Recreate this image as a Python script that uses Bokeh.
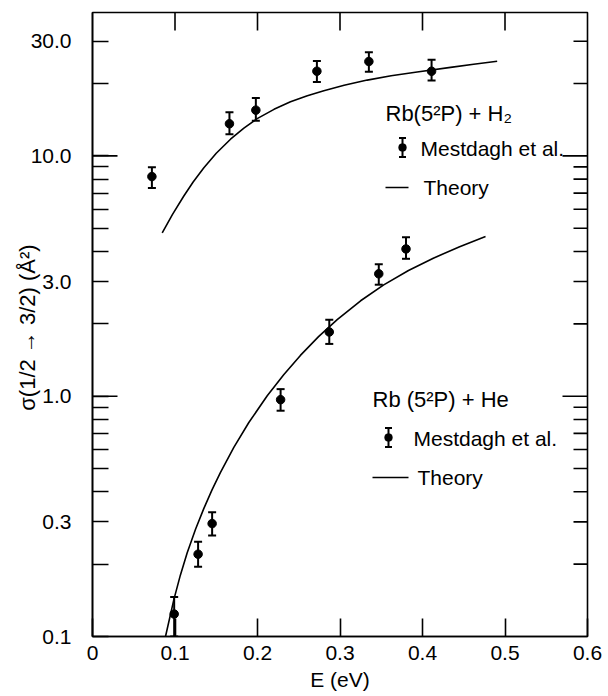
import numpy as np
from bokeh.plotting import figure
from bokeh.models import (ColumnDataSource, Whisker, TeeHead, FixedTicker,
                          Label, Arrow, Range1d, BoxAnnotation)
from bokeh.embed import file_html
from bokeh.resources import INLINE

# ---------------- data ----------------
H2_E = [0.072, 0.166, 0.198, 0.272, 0.335, 0.411]
H2_SIGMA = [8.2, 13.6, 15.5, 22.5, 24.7, 22.5]
H2_UPPER = [8.97, 15.2, 17.4, 24.8, 27.0, 25.1]
H2_LOWER = [7.35, 12.3, 14.0, 20.3, 22.4, 20.6]

H2_THEORY_E = [0.0845, 0.097, 0.1107, 0.122, 0.135, 0.150, 0.1673, 0.1835, 0.1996, 0.220,
               0.240, 0.2604, 0.2804, 0.305, 0.333, 0.362, 0.3935, 0.434, 0.462, 0.4905]
H2_THEORY_SIGMA = [4.78, 5.71, 6.81, 7.78, 8.93, 10.25, 11.73, 13.05, 14.29, 15.62,
                   16.78, 17.80, 18.67, 19.66, 20.67, 21.54, 22.34, 23.34, 24.05, 24.77]

HE_E = [0.099, 0.128, 0.145, 0.228, 0.287, 0.347, 0.380]
HE_SIGMA = [0.124, 0.220, 0.295, 0.967, 1.85, 3.23, 4.10]
HE_UPPER = [0.146, 0.248, 0.329, 1.07, 2.08, 3.54, 4.59]
HE_LOWER = [0.100, 0.195, 0.263, 0.87, 1.65, 2.91, 3.73]

HE_THEORY_E = [0.0885, 0.0986, 0.1065, 0.1148, 0.125, 0.135, 0.145, 0.155, 0.1713, 0.1895,
               0.2118, 0.232, 0.252, 0.274, 0.2966, 0.325, 0.353, 0.383, 0.4131, 0.445, 0.4764]
HE_THEORY_SIGMA = [0.100, 0.1424, 0.180, 0.2231, 0.280, 0.3414, 0.4087, 0.481, 0.612, 0.777,
                   1.004, 1.232, 1.478, 1.769, 2.084, 2.495, 2.904, 3.334, 3.752, 4.188, 4.617]

X_TICKS = [0, 0.1, 0.2, 0.3, 0.4, 0.5, 0.6]
X_TICK_LABELS = ["0", "0.1", "0.2", "0.3", "0.4", "0.5", "0.6"]
Y_TICKS = [0.1, 0.3, 1, 3, 10, 30]
Y_TICK_LABELS = ["0.1", "0.3", "1.0", "3.0", "10.0", "30.0"]
Y_MINOR = [0.2, 0.4, 0.5, 0.6, 0.7, 0.8, 0.9, 2, 4, 5, 6, 7, 8, 9, 20]
Y_LONG_TICKS = [1, 10]

X_LABEL = "E (eV)"
Y_LABEL = "σ(1/2 → 3/2)  (Å²)"
H2_TITLE = "Rb(5²P) + H₂"
HE_TITLE = "Rb (5²P) + He"
DATA_NAME = "Mestdagh et al."
THEORY_NAME = "Theory"

X_START, X_END = 0.0, 0.6
Y_START, Y_END = 0.1, 39.5

FONT = "Liberation Sans"
LW = 1.6

p = figure(width=604, height=696, x_range=Range1d(X_START, X_END),
           y_range=Range1d(Y_START, Y_END), y_axis_type="log",
           output_backend="svg", toolbar_location=None,
           min_border_left=92, min_border_right=17, min_border_top=12, min_border_bottom=60)
p.background_fill_color = "white"
p.border_fill_color = "white"
p.outline_line_color = "black"
p.outline_line_width = LW
p.xgrid.grid_line_color = None
p.ygrid.grid_line_color = None


def style_axis(ax, tick_in, minor_in):
    ax.axis_line_color = "black"
    ax.axis_line_width = LW
    ax.major_tick_line_color = "black"
    ax.major_tick_line_width = LW
    ax.minor_tick_line_color = "black"
    ax.minor_tick_line_width = LW
    ax.major_tick_in = tick_in
    ax.major_tick_out = 0
    ax.minor_tick_in = minor_in
    ax.minor_tick_out = 0
    ax.major_label_text_font = FONT
    ax.major_label_text_color = "black"
    ax.major_label_text_font_size = "21px"
    ax.axis_label_text_font = FONT
    ax.axis_label_text_color = "black"
    ax.axis_label_text_font_style = "normal"


# bottom axis
xa = p.xaxis[0]
xa.ticker = FixedTicker(ticks=X_TICKS, minor_ticks=[])
xa.major_label_overrides = {v: s for v, s in zip(X_TICKS, X_TICK_LABELS)}
style_axis(xa, 18, 0)
xa.major_label_standoff = 9
xa.axis_label = X_LABEL
xa.axis_label_text_font_size = "21px"
xa.axis_label_standoff = 5

# left axis
ya = p.yaxis[0]
ya.ticker = FixedTicker(ticks=Y_TICKS, minor_ticks=Y_MINOR)
ya.major_label_overrides = {v: s for v, s in zip(Y_TICKS, Y_TICK_LABELS)}
style_axis(ya, 16, 16)
ya.major_label_standoff = 21
ya.axis_label = Y_LABEL
ya.axis_label_text_font_size = "22px"
ya.axis_label_standoff = -12

# mirror ticks on the top and right edges (drawn as short rays from the frame edge)
p.ray(x=X_TICKS[1:-1], y=[Y_END] * (len(X_TICKS) - 2), length=18, length_units="screen",
      angle=-np.pi / 2, line_color="black", line_width=LW)
short_right = [t for t in Y_TICKS + Y_MINOR if t not in Y_LONG_TICKS and t > Y_START]
p.ray(x=[X_END] * len(short_right), y=short_right, length=14, length_units="screen",
      angle=np.pi, line_color="black", line_width=LW)
# longer ticks at the decades on both sides
p.ray(x=[X_START] * len(Y_LONG_TICKS), y=Y_LONG_TICKS, length=25, length_units="screen",
      angle=0, line_color="black", line_width=LW)
p.ray(x=[X_END] * len(Y_LONG_TICKS), y=Y_LONG_TICKS, length=25, length_units="screen",
      angle=np.pi, line_color="black", line_width=LW)

# theory curves
p.line(H2_THEORY_E, H2_THEORY_SIGMA, line_color="black", line_width=LW)
p.line(HE_THEORY_E, HE_THEORY_SIGMA, line_color="black", line_width=LW)

# data with error bars
for E, S, U, L in [(H2_E, H2_SIGMA, H2_UPPER, H2_LOWER), (HE_E, HE_SIGMA, HE_UPPER, HE_LOWER)]:
    src = ColumnDataSource(dict(x=E, y=S, upper=U, lower=L))
    p.add_layout(Whisker(source=src, base="x", upper="upper", lower="lower", dimension="height",
                         line_color="black", line_width=2,
                         upper_head=TeeHead(size=8, line_color="black", line_width=2),
                         lower_head=TeeHead(size=8, line_color="black", line_width=2)))
    p.scatter("x", "y", source=src, marker="circle", size=8.5, fill_color="black",
              line_color="black")


# ---------------- hand-made legends (screen units, relative to the frame) ----------------
def legend_block(title, tx, ty, mx, my, lx, ly, x0, x1, thx, thy):
    p.add_layout(Label(x=tx, y=ty, x_units="screen", y_units="screen", text=title,
                       text_font=FONT, text_font_size="22px", text_baseline="middle",
                       text_align="left", text_color="black"))
    src = ColumnDataSource(dict(x=[mx], top=[my + 9.5], bottom=[my - 9.5]))
    p.add_layout(Whisker(source=src, base="x", upper="top", lower="bottom", dimension="height",
                         base_units="screen", upper_units="screen", lower_units="screen",
                         line_color="black", line_width=2,
                         upper_head=TeeHead(size=7, line_color="black", line_width=2),
                         lower_head=TeeHead(size=7, line_color="black", line_width=2)))
    p.add_layout(BoxAnnotation(left=mx - 4, right=mx + 4, bottom=my - 4, top=my + 4,
                               left_units="screen", right_units="screen",
                               top_units="screen", bottom_units="screen",
                               fill_color="black", fill_alpha=1, line_color="black",
                               border_radius=4))
    p.add_layout(Label(x=lx, y=ly, x_units="screen", y_units="screen", text=DATA_NAME,
                       text_font=FONT, text_font_size="21px", text_baseline="middle",
                       text_align="left", text_color="black"))
    p.add_layout(Arrow(end=None, x_start=x0, y_start=thy, x_end=x1, y_end=thy,
                       start_units="screen", end_units="screen",
                       line_color="black", line_width=LW))
    p.add_layout(Label(x=thx, y=thy, x_units="screen", y_units="screen", text=THEORY_NAME,
                       text_font=FONT, text_font_size="21px", text_baseline="middle",
                       text_align="left", text_color="black"))


legend_block(H2_TITLE, 293, 523, 310, 489, 328, 488, 293, 316, 331, 449)
legend_block(HE_TITLE, 280, 237, 296, 199, 321, 198, 280, 316, 325, 159)

open("out.html", "w").write(file_html(p, INLINE))
